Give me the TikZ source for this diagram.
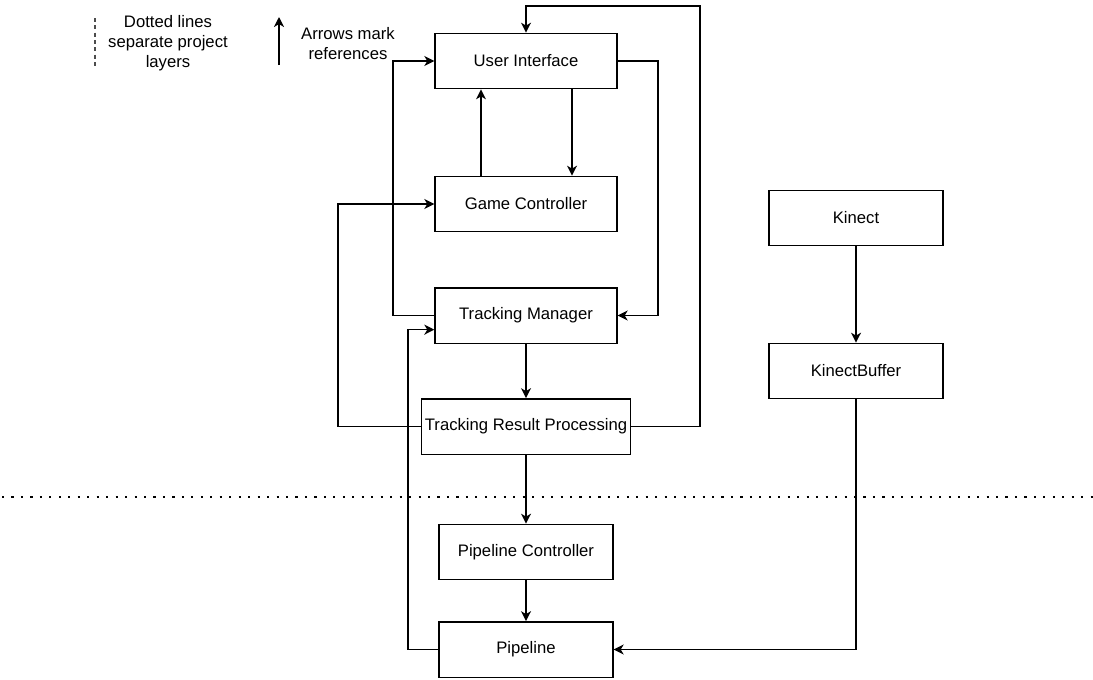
\documentclass[tikz,border=0pt]{standalone}
\usepackage{fontspec}
\setmainfont{Liberation Sans}
\usetikzlibrary{arrows.meta,calc}
\begin{document}
\begin{tikzpicture}[x=0.75pt,y=-0.75pt,
  font=\fontsize{12.5pt}{15pt}\selectfont,
  box/.style={draw, line width=1pt, minimum height=41.5pt, inner sep=0pt, align=center},
  arr/.style={line width=1pt, -{Stealth[length=7.5pt,width=7.5pt,inset=2.2pt]}},
  note/.style={align=center, inner sep=0pt}]
\useasboundingbox (0,0) rectangle (1093,679);

% components
\node[box, minimum width=136.5pt] (ui)  at (526,61)    {User Interface};
\node[box, minimum width=136.5pt] (gc)  at (526,204)   {Game Controller};
\node[box, minimum width=136.5pt] (tm)  at (526,315.5) {Tracking Manager};
\node[box, minimum width=156.75pt] (trp) at (526,426.5) {Tracking Result Processing};
\node[box, minimum width=130.5pt] (pc)  at (526,552)   {Pipeline Controller};
\node[box, minimum width=130.5pt] (pl)  at (526,649.5) {Pipeline};
\node[box, minimum width=130.5pt] (kin) at (856,218)   {Kinect};
\node[box, minimum width=130.5pt] (kb)  at (856,371)   {KinectBuffer};

% routing tracks
\coordinate (upL)   at (481,0);
\coordinate (downR) at (572,0);
\coordinate (uiR)   at (658,0);
\coordinate (tmL)   at (393,0);
\coordinate (trpL)  at (338,0);
\coordinate (plL)   at (408,0);
\coordinate (loop)  at (700,6);
\coordinate (tmIn)  at ($(tm.south west)!0.25!(tm.north west)$);

% references
\draw[arr] (gc.north -| upL) -- (ui.south -| upL);
\draw[arr] (ui.south -| downR) -- (gc.north -| downR);
\draw[arr] (ui.east) -- (ui.east -| uiR) |- (tm.east);
\draw[arr] (tm.west) -- (tm.west -| tmL) |- (ui.west);
\draw[arr] (trp.west) -- (trp.west -| trpL) |- (gc.west);
\draw[arr] (trp.east) -| (loop) -| (ui.north);
\draw[arr] (tm.south) -- (trp.north);
\draw[arr] (trp.south) -- (pc.north);
\draw[arr] (pc.south) -- (pl.north);
\draw[arr] (pl.west) -- (pl.west -| plL) |- (tmIn);
\draw[arr] (kin.south) -- (kb.north);
\draw[arr] (kb.south) |- (pl.east);

% layer separator
\coordinate (sepA) at (2,497);
\coordinate (sepB) at (1093,497);
\draw[line width=1.6pt, dash pattern=on 1.6pt off 5.5pt] (sepA) -- (sepB);

% legend
\coordinate (dashTop) at (95,18);
\coordinate (dashBot) at (95,66);
\draw[line width=0.9pt, black!70, dash pattern=on 3pt off 2.5pt] (dashTop) -- (dashBot);
\node[note] (legDot) at (168,43.5) {Dotted lines\\separate project\\layers};
\coordinate (arrBot) at (279,65);
\coordinate (arrTop) at (279,17);
\draw[arr] (arrBot) -- (arrTop);
\node[note] (legArr) at (348,44) {Arrows mark\\references};
\end{tikzpicture}
\end{document}
